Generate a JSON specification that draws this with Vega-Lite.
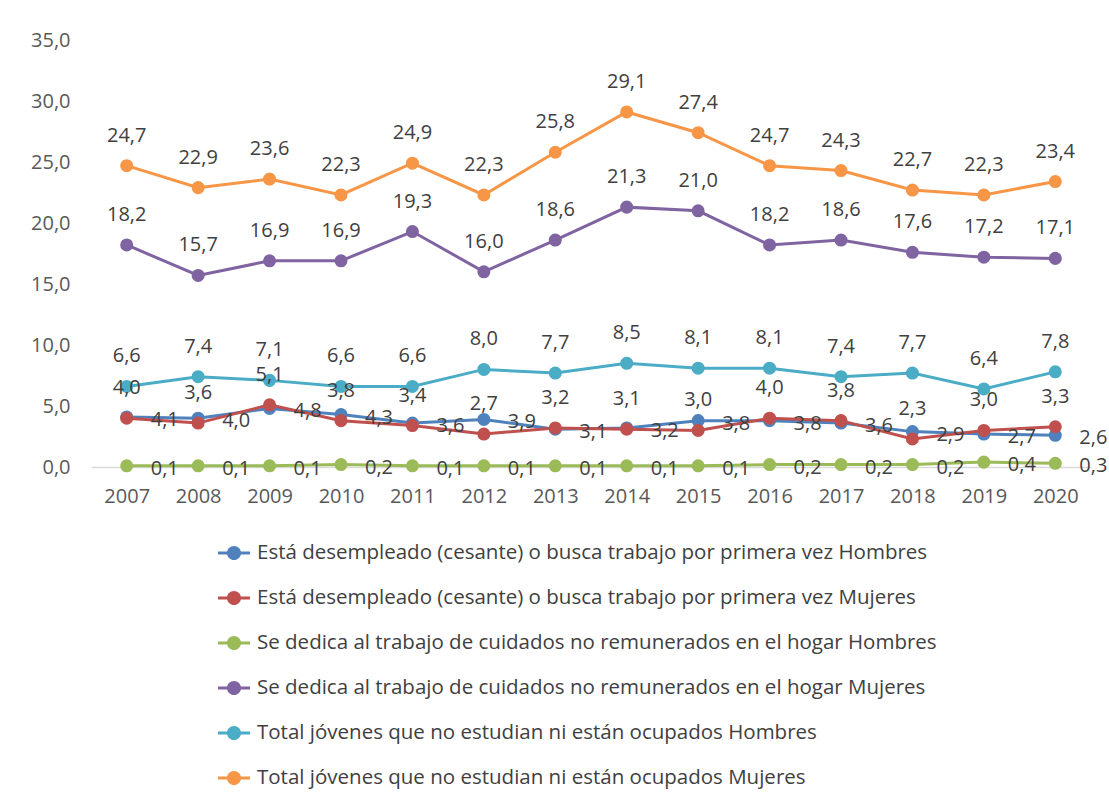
{
  "$schema": "https://vega.github.io/schema/vega-lite/v6.json",
  "width": 1000,
  "height": 427,
  "autosize": {"type": "none"},
  "padding": {"left": 91, "top": 40, "right": 18, "bottom": 340},
  "background": "white",
  "config": {
    "locale": {"number": {"decimal": ",", "thousands": ".", "grouping": [3], "currency": ["", " €"]}},
    "font": "Open Sans",
    "view": {"stroke": null},
    "axis": {"labelFont": "Open Sans", "labelFontSize": 20, "labelColor": "#595959", "grid": false, "ticks": false, "title": null}
  },
  "data": {
    "values": [
      {"year": "2007", "series": "Está desempleado (cesante) o busca trabajo por primera vez Hombres", "value": 4.1},
      {"year": "2008", "series": "Está desempleado (cesante) o busca trabajo por primera vez Hombres", "value": 4.0},
      {"year": "2009", "series": "Está desempleado (cesante) o busca trabajo por primera vez Hombres", "value": 4.8},
      {"year": "2010", "series": "Está desempleado (cesante) o busca trabajo por primera vez Hombres", "value": 4.3},
      {"year": "2011", "series": "Está desempleado (cesante) o busca trabajo por primera vez Hombres", "value": 3.6},
      {"year": "2012", "series": "Está desempleado (cesante) o busca trabajo por primera vez Hombres", "value": 3.9},
      {"year": "2013", "series": "Está desempleado (cesante) o busca trabajo por primera vez Hombres", "value": 3.1},
      {"year": "2014", "series": "Está desempleado (cesante) o busca trabajo por primera vez Hombres", "value": 3.2},
      {"year": "2015", "series": "Está desempleado (cesante) o busca trabajo por primera vez Hombres", "value": 3.8},
      {"year": "2016", "series": "Está desempleado (cesante) o busca trabajo por primera vez Hombres", "value": 3.8},
      {"year": "2017", "series": "Está desempleado (cesante) o busca trabajo por primera vez Hombres", "value": 3.6},
      {"year": "2018", "series": "Está desempleado (cesante) o busca trabajo por primera vez Hombres", "value": 2.9},
      {"year": "2019", "series": "Está desempleado (cesante) o busca trabajo por primera vez Hombres", "value": 2.7},
      {"year": "2020", "series": "Está desempleado (cesante) o busca trabajo por primera vez Hombres", "value": 2.6},
      {"year": "2007", "series": "Está desempleado (cesante) o busca trabajo por primera vez Mujeres", "value": 4.0},
      {"year": "2008", "series": "Está desempleado (cesante) o busca trabajo por primera vez Mujeres", "value": 3.6},
      {"year": "2009", "series": "Está desempleado (cesante) o busca trabajo por primera vez Mujeres", "value": 5.1},
      {"year": "2010", "series": "Está desempleado (cesante) o busca trabajo por primera vez Mujeres", "value": 3.8},
      {"year": "2011", "series": "Está desempleado (cesante) o busca trabajo por primera vez Mujeres", "value": 3.4},
      {"year": "2012", "series": "Está desempleado (cesante) o busca trabajo por primera vez Mujeres", "value": 2.7},
      {"year": "2013", "series": "Está desempleado (cesante) o busca trabajo por primera vez Mujeres", "value": 3.2},
      {"year": "2014", "series": "Está desempleado (cesante) o busca trabajo por primera vez Mujeres", "value": 3.1},
      {"year": "2015", "series": "Está desempleado (cesante) o busca trabajo por primera vez Mujeres", "value": 3.0},
      {"year": "2016", "series": "Está desempleado (cesante) o busca trabajo por primera vez Mujeres", "value": 4.0},
      {"year": "2017", "series": "Está desempleado (cesante) o busca trabajo por primera vez Mujeres", "value": 3.8},
      {"year": "2018", "series": "Está desempleado (cesante) o busca trabajo por primera vez Mujeres", "value": 2.3},
      {"year": "2019", "series": "Está desempleado (cesante) o busca trabajo por primera vez Mujeres", "value": 3.0},
      {"year": "2020", "series": "Está desempleado (cesante) o busca trabajo por primera vez Mujeres", "value": 3.3},
      {"year": "2007", "series": "Se dedica al trabajo de cuidados no remunerados en el hogar Hombres", "value": 0.1},
      {"year": "2008", "series": "Se dedica al trabajo de cuidados no remunerados en el hogar Hombres", "value": 0.1},
      {"year": "2009", "series": "Se dedica al trabajo de cuidados no remunerados en el hogar Hombres", "value": 0.1},
      {"year": "2010", "series": "Se dedica al trabajo de cuidados no remunerados en el hogar Hombres", "value": 0.2},
      {"year": "2011", "series": "Se dedica al trabajo de cuidados no remunerados en el hogar Hombres", "value": 0.1},
      {"year": "2012", "series": "Se dedica al trabajo de cuidados no remunerados en el hogar Hombres", "value": 0.1},
      {"year": "2013", "series": "Se dedica al trabajo de cuidados no remunerados en el hogar Hombres", "value": 0.1},
      {"year": "2014", "series": "Se dedica al trabajo de cuidados no remunerados en el hogar Hombres", "value": 0.1},
      {"year": "2015", "series": "Se dedica al trabajo de cuidados no remunerados en el hogar Hombres", "value": 0.1},
      {"year": "2016", "series": "Se dedica al trabajo de cuidados no remunerados en el hogar Hombres", "value": 0.2},
      {"year": "2017", "series": "Se dedica al trabajo de cuidados no remunerados en el hogar Hombres", "value": 0.2},
      {"year": "2018", "series": "Se dedica al trabajo de cuidados no remunerados en el hogar Hombres", "value": 0.2},
      {"year": "2019", "series": "Se dedica al trabajo de cuidados no remunerados en el hogar Hombres", "value": 0.4},
      {"year": "2020", "series": "Se dedica al trabajo de cuidados no remunerados en el hogar Hombres", "value": 0.3},
      {"year": "2007", "series": "Se dedica al trabajo de cuidados no remunerados en el hogar Mujeres", "value": 18.2},
      {"year": "2008", "series": "Se dedica al trabajo de cuidados no remunerados en el hogar Mujeres", "value": 15.7},
      {"year": "2009", "series": "Se dedica al trabajo de cuidados no remunerados en el hogar Mujeres", "value": 16.9},
      {"year": "2010", "series": "Se dedica al trabajo de cuidados no remunerados en el hogar Mujeres", "value": 16.9},
      {"year": "2011", "series": "Se dedica al trabajo de cuidados no remunerados en el hogar Mujeres", "value": 19.3},
      {"year": "2012", "series": "Se dedica al trabajo de cuidados no remunerados en el hogar Mujeres", "value": 16.0},
      {"year": "2013", "series": "Se dedica al trabajo de cuidados no remunerados en el hogar Mujeres", "value": 18.6},
      {"year": "2014", "series": "Se dedica al trabajo de cuidados no remunerados en el hogar Mujeres", "value": 21.3},
      {"year": "2015", "series": "Se dedica al trabajo de cuidados no remunerados en el hogar Mujeres", "value": 21.0},
      {"year": "2016", "series": "Se dedica al trabajo de cuidados no remunerados en el hogar Mujeres", "value": 18.2},
      {"year": "2017", "series": "Se dedica al trabajo de cuidados no remunerados en el hogar Mujeres", "value": 18.6},
      {"year": "2018", "series": "Se dedica al trabajo de cuidados no remunerados en el hogar Mujeres", "value": 17.6},
      {"year": "2019", "series": "Se dedica al trabajo de cuidados no remunerados en el hogar Mujeres", "value": 17.2},
      {"year": "2020", "series": "Se dedica al trabajo de cuidados no remunerados en el hogar Mujeres", "value": 17.1},
      {"year": "2007", "series": "Total jóvenes que no estudian ni están ocupados Hombres", "value": 6.6},
      {"year": "2008", "series": "Total jóvenes que no estudian ni están ocupados Hombres", "value": 7.4},
      {"year": "2009", "series": "Total jóvenes que no estudian ni están ocupados Hombres", "value": 7.1},
      {"year": "2010", "series": "Total jóvenes que no estudian ni están ocupados Hombres", "value": 6.6},
      {"year": "2011", "series": "Total jóvenes que no estudian ni están ocupados Hombres", "value": 6.6},
      {"year": "2012", "series": "Total jóvenes que no estudian ni están ocupados Hombres", "value": 8.0},
      {"year": "2013", "series": "Total jóvenes que no estudian ni están ocupados Hombres", "value": 7.7},
      {"year": "2014", "series": "Total jóvenes que no estudian ni están ocupados Hombres", "value": 8.5},
      {"year": "2015", "series": "Total jóvenes que no estudian ni están ocupados Hombres", "value": 8.1},
      {"year": "2016", "series": "Total jóvenes que no estudian ni están ocupados Hombres", "value": 8.1},
      {"year": "2017", "series": "Total jóvenes que no estudian ni están ocupados Hombres", "value": 7.4},
      {"year": "2018", "series": "Total jóvenes que no estudian ni están ocupados Hombres", "value": 7.7},
      {"year": "2019", "series": "Total jóvenes que no estudian ni están ocupados Hombres", "value": 6.4},
      {"year": "2020", "series": "Total jóvenes que no estudian ni están ocupados Hombres", "value": 7.8},
      {"year": "2007", "series": "Total jóvenes que no estudian ni están ocupados Mujeres", "value": 24.7},
      {"year": "2008", "series": "Total jóvenes que no estudian ni están ocupados Mujeres", "value": 22.9},
      {"year": "2009", "series": "Total jóvenes que no estudian ni están ocupados Mujeres", "value": 23.6},
      {"year": "2010", "series": "Total jóvenes que no estudian ni están ocupados Mujeres", "value": 22.3},
      {"year": "2011", "series": "Total jóvenes que no estudian ni están ocupados Mujeres", "value": 24.9},
      {"year": "2012", "series": "Total jóvenes que no estudian ni están ocupados Mujeres", "value": 22.3},
      {"year": "2013", "series": "Total jóvenes que no estudian ni están ocupados Mujeres", "value": 25.8},
      {"year": "2014", "series": "Total jóvenes que no estudian ni están ocupados Mujeres", "value": 29.1},
      {"year": "2015", "series": "Total jóvenes que no estudian ni están ocupados Mujeres", "value": 27.4},
      {"year": "2016", "series": "Total jóvenes que no estudian ni están ocupados Mujeres", "value": 24.7},
      {"year": "2017", "series": "Total jóvenes que no estudian ni están ocupados Mujeres", "value": 24.3},
      {"year": "2018", "series": "Total jóvenes que no estudian ni están ocupados Mujeres", "value": 22.7},
      {"year": "2019", "series": "Total jóvenes que no estudian ni están ocupados Mujeres", "value": 22.3},
      {"year": "2020", "series": "Total jóvenes que no estudian ni están ocupados Mujeres", "value": 23.4}
    ]
  },
  "encoding": {
    "x": {
      "field": "year", "type": "ordinal",
      "scale": {"type": "point", "padding": 0.5},
      "axis": {"labelAngle": 0, "domain": true, "domainColor": "#d9d9d9", "domainWidth": 1.5, "labelPadding": 19, "offset": 0}
    },
    "y": {
      "field": "value", "type": "quantitative",
      "scale": {"domain": [0, 35], "nice": false, "zero": true},
      "axis": {"values": [0, 5, 10, 15, 20, 25, 30, 35], "format": ".1f", "domain": false, "labelPadding": 21}
    }
  },
  "layer": [
    {
      "mark": {"type": "line", "strokeWidth": 3},
      "encoding": {
        "color": {
          "field": "series", "type": "nominal",
          "scale": {
            "domain": [
              "Está desempleado (cesante) o busca trabajo por primera vez Hombres",
              "Está desempleado (cesante) o busca trabajo por primera vez Mujeres",
              "Se dedica al trabajo de cuidados no remunerados en el hogar Hombres",
              "Se dedica al trabajo de cuidados no remunerados en el hogar Mujeres",
              "Total jóvenes que no estudian ni están ocupados Hombres",
              "Total jóvenes que no estudian ni están ocupados Mujeres"
            ],
            "range": ["#4F81BD", "#C0504D", "#9BBB59", "#8064A2", "#4BACC6", "#F79646"]
          },
          "legend": {
            "orient": "none", "legendX": 127, "legendY": 497, "direction": "vertical", "columns": 1,
            "title": null,
            "symbolType": "M-1,-0.09L1,-0.09L1,0.09L-1,0.09Z M0.44,0A0.44,0.44 0 1,1 -0.44,0A0.44,0.44 0 1,1 0.44,0Z",
            "symbolSize": 1024, "symbolStrokeWidth": 0, "symbolOpacity": 1,
            "labelFont": "Open Sans", "labelFontSize": 20.5, "labelColor": "#404040", "labelLimit": 1000,
            "labelOffset": 7, "rowPadding": 18
          }
        }
      }
    },
    {
      "mark": {"type": "point", "filled": true, "size": 170, "opacity": 1},
      "encoding": {
        "color": {"field": "series", "type": "nominal"}
      }
    },
    {
      "transform": [{"filter": {"field": "series", "oneOf": [
        "Está desempleado (cesante) o busca trabajo por primera vez Mujeres",
        "Se dedica al trabajo de cuidados no remunerados en el hogar Mujeres",
        "Total jóvenes que no estudian ni están ocupados Hombres",
        "Total jóvenes que no estudian ni están ocupados Mujeres"
      ]}}],
      "mark": {"type": "text", "dy": -30, "fontSize": 20, "font": "Open Sans", "color": "#404040", "baseline": "middle"},
      "encoding": {"text": {"field": "value", "type": "quantitative", "format": ".1f"}}
    },
    {
      "transform": [{"filter": {"field": "series", "oneOf": [
        "Está desempleado (cesante) o busca trabajo por primera vez Hombres",
        "Se dedica al trabajo de cuidados no remunerados en el hogar Hombres"
      ]}}],
      "mark": {"type": "text", "dx": 24, "dy": 3, "align": "left", "fontSize": 20, "font": "Open Sans", "color": "#404040", "baseline": "middle"},
      "encoding": {"text": {"field": "value", "type": "quantitative", "format": ".1f"}}
    }
  ]
}
